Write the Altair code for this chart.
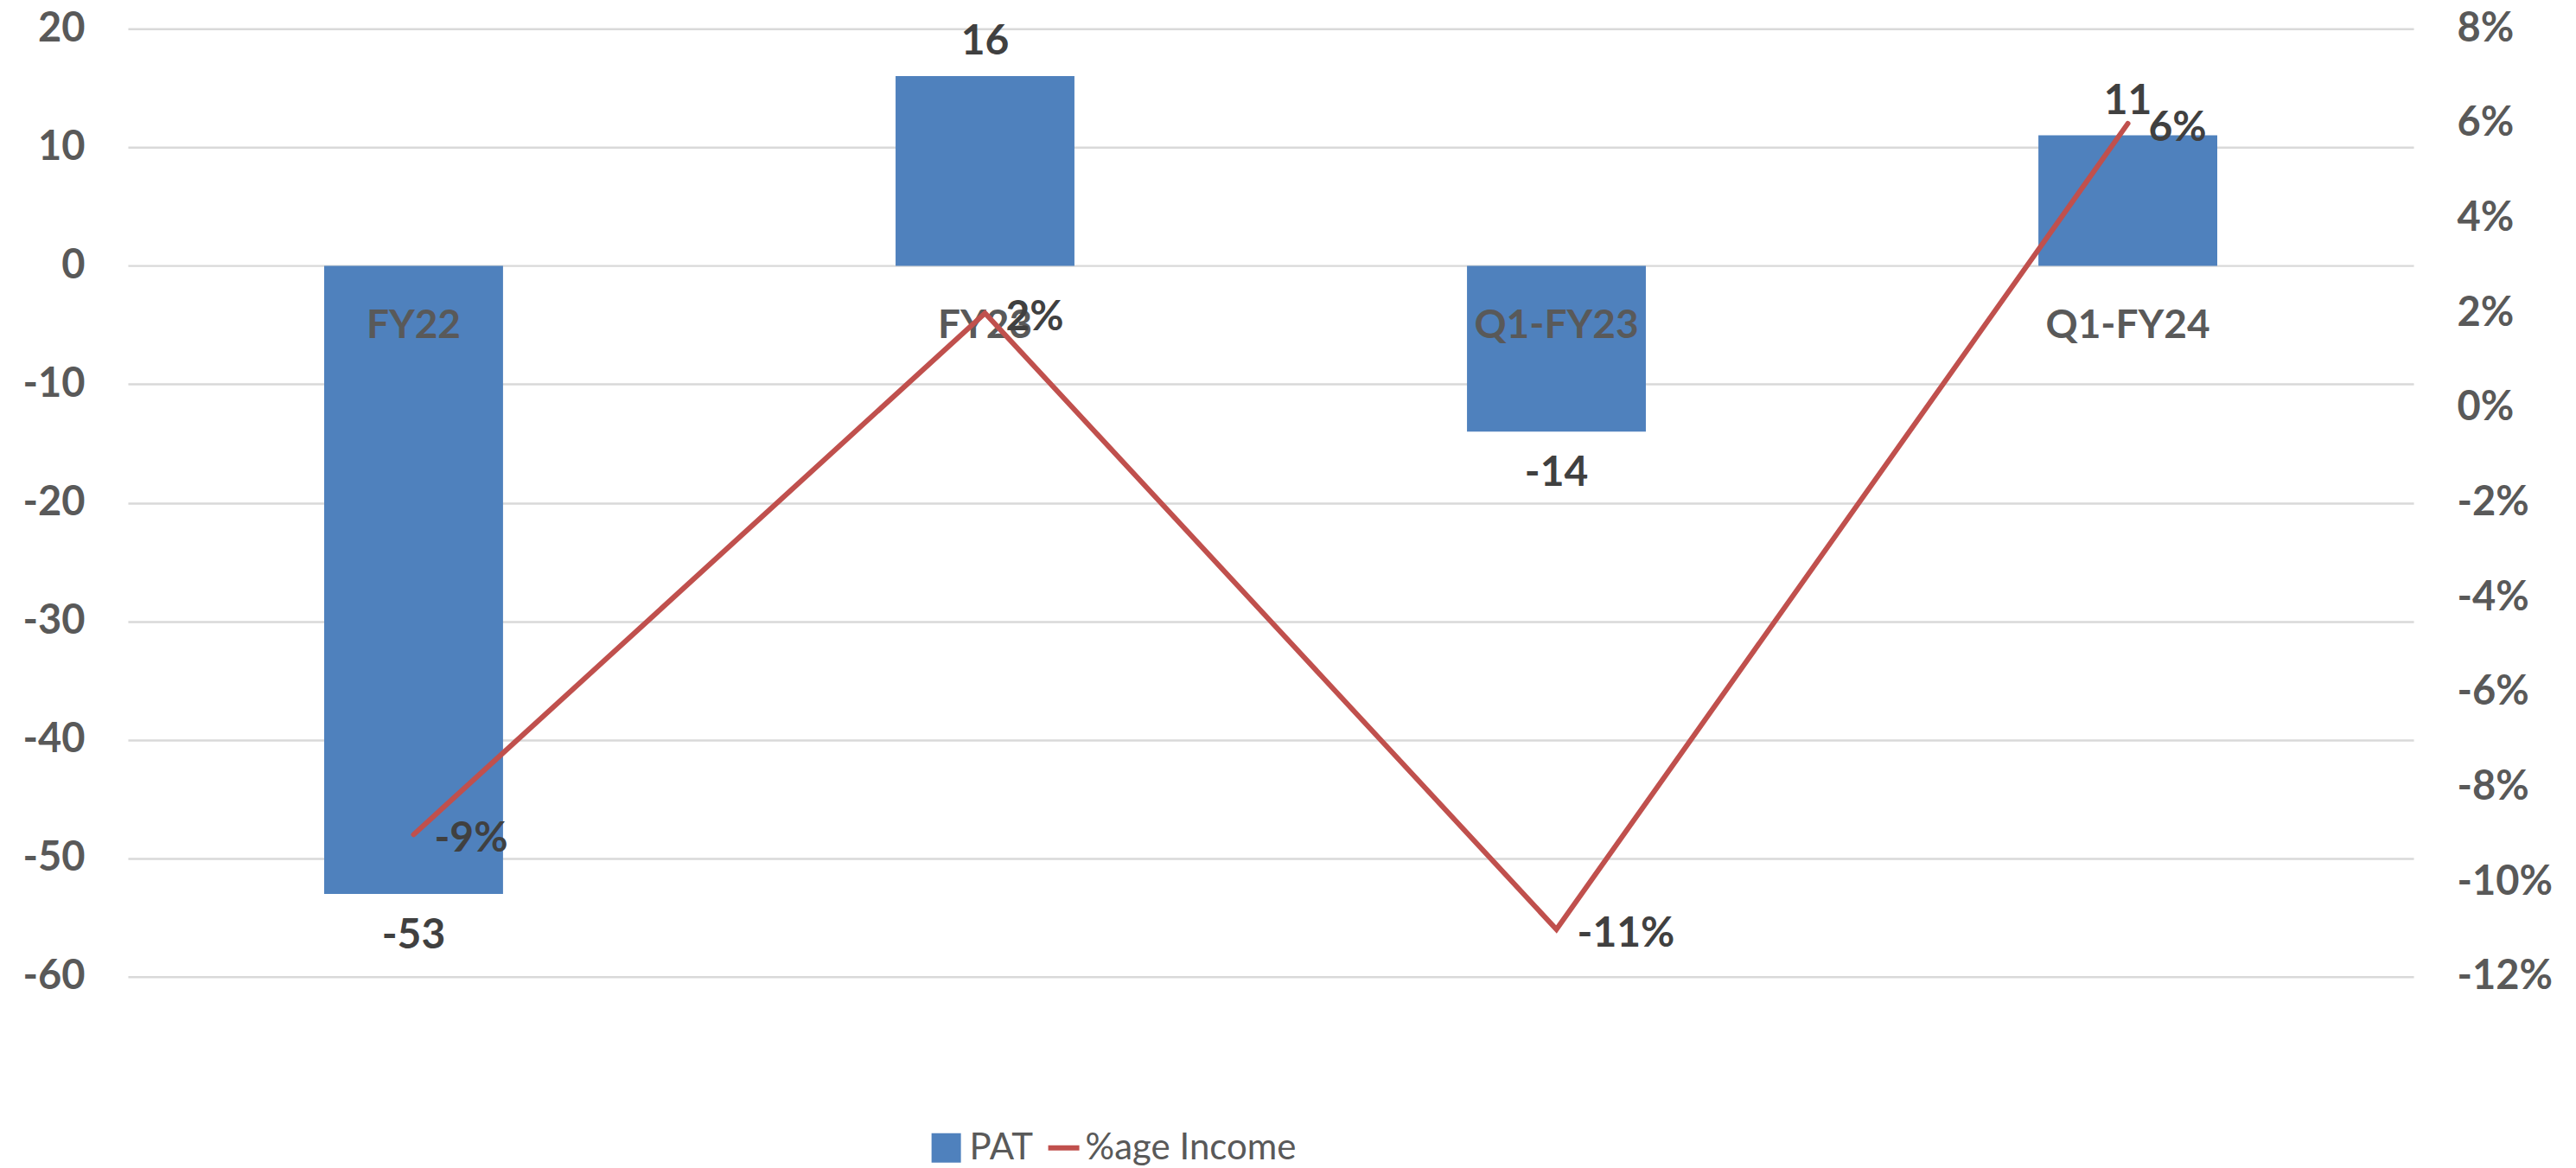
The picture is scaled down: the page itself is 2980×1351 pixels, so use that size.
import altair as alt
import pandas as pd

categories = ["FY22", "FY23", "Q1-FY23", "Q1-FY24"]
pat_values = [-53, 16, -14, 11]
income_pct = [-0.09, 0.02, -0.11, 0.06]
left_ticks = [20, 10, 0, -10, -20, -30, -40, -50, -60]
right_ticks = [0.08, 0.06, 0.04, 0.02, 0.0, -0.02, -0.04, -0.06, -0.08, -0.10, -0.12]
bar_name = "PAT"
line_name = "%age Income"

df = pd.DataFrame({"cat": categories, "pat": pat_values, "pct": income_pct})
df["pat_label"] = [str(v) for v in pat_values]
df["pct_label"] = [f"{int(round(v * 100))}%" for v in income_pct]
df["bar_series"] = bar_name
df["line_series"] = line_name
df["zero"] = 0

FONT = "Lato"
AX_COLOR = "#595959"
LBL_COLOR = "#404040"

x = alt.X("cat:N", sort=categories, axis=None,
          scale=alt.Scale(paddingInner=0.687, paddingOuter=0.3435))

left_scale = alt.Scale(domain=[-60, 20], nice=False, zero=False)
right_scale = alt.Scale(domain=[-0.12, 0.08], nice=False, zero=False)

left_axis = alt.Axis(values=left_ticks, orient="left", grid=True, gridColor="#D9D9D9",
                     gridWidth=2.5, domain=False, ticks=False, labelPadding=50, title=None,
                     labelFont=FONT, labelFontSize=47, labelFontWeight="bold",
                     labelColor=AX_COLOR,
                     labelExpr="(datum.value < 0 ? '-' : '') + format(abs(datum.value), 'd')")
right_axis = alt.Axis(values=right_ticks, orient="right", grid=False, domain=False,
                      ticks=False, labelPadding=50, title=None,
                      labelFont=FONT, labelFontSize=47, labelFontWeight="bold",
                      labelColor=AX_COLOR,
                      labelExpr="(datum.value < 0 ? '-' : '') + format(abs(datum.value), '.0%')")

base = alt.Chart(df)

bars = base.mark_bar().encode(
    x=x,
    y=alt.Y("pat:Q", scale=left_scale, axis=left_axis),
    y2=alt.Y2("zero:Q"),
    fill=alt.Fill("bar_series:N",
                  scale=alt.Scale(domain=[bar_name], range=["#4F81BD"]),
                  legend=alt.Legend(orient="none", legendX=926, legendY=1274, title=None,
                                    symbolType="square", symbolSize=1156,
                                    symbolStrokeWidth=0, labelFont=FONT,
                                    labelFontSize=42, labelColor=AX_COLOR,
                                    labelOffset=6, padding=0, labelLimit=0)),
)

lab_pos = base.mark_text(font=FONT, fontSize=48, fontWeight="bold", color=LBL_COLOR,
                         baseline="middle", dy=-39).encode(
    x=x, y=alt.Y("pat:Q", scale=left_scale, axis=None), text="pat_label:N"
).transform_filter("datum.pat >= 0")

lab_neg = base.mark_text(font=FONT, fontSize=48, fontWeight="bold", color=LBL_COLOR,
                         baseline="middle", dy=49).encode(
    x=x, y=alt.Y("pat:Q", scale=left_scale, axis=None), text="pat_label:N"
).transform_filter("datum.pat < 0")

cat_labels = base.mark_text(font=FONT, fontSize=46, fontWeight="bold", color=AX_COLOR,
                            baseline="middle", dy=70).encode(
    x=x, y=alt.Y("zero:Q", scale=left_scale, axis=None), text="cat:N"
)

line = base.mark_line(strokeWidth=6, strokeCap="round").encode(
    x=x,
    y=alt.Y("pct:Q", scale=right_scale, axis=right_axis),
    stroke=alt.Stroke("line_series:N",
                      scale=alt.Scale(domain=[line_name], range=["#C0504D"]),
                      legend=alt.Legend(orient="none", legendX=1062, legendY=1274, title=None,
                                        symbolType="stroke", symbolSize=1296,
                                        symbolStrokeWidth=6, labelFont=FONT,
                                        labelFontSize=42, labelColor=AX_COLOR,
                                        labelOffset=4, padding=0, labelLimit=0)),
)

line_labels = base.mark_text(font=FONT, fontSize=48, fontWeight="bold", color=LBL_COLOR,
                             baseline="middle", align="left", dx=24, dy=6).encode(
    x=x, y=alt.Y("pct:Q", scale=right_scale, axis=None), text="pct_label:N"
)

chart = alt.layer(bars, lab_pos, lab_neg, cat_labels, line, line_labels).resolve_scale(
    y="independent"
).properties(
    width=2645, height=1097,
    autosize=alt.AutoSizeParams(type="none"),
    padding={"left": 140, "top": 25, "right": 180, "bottom": 220},
).configure_view(stroke=None)

chart.save("out.html", embed_options={"renderer": "svg", "actions": False})
